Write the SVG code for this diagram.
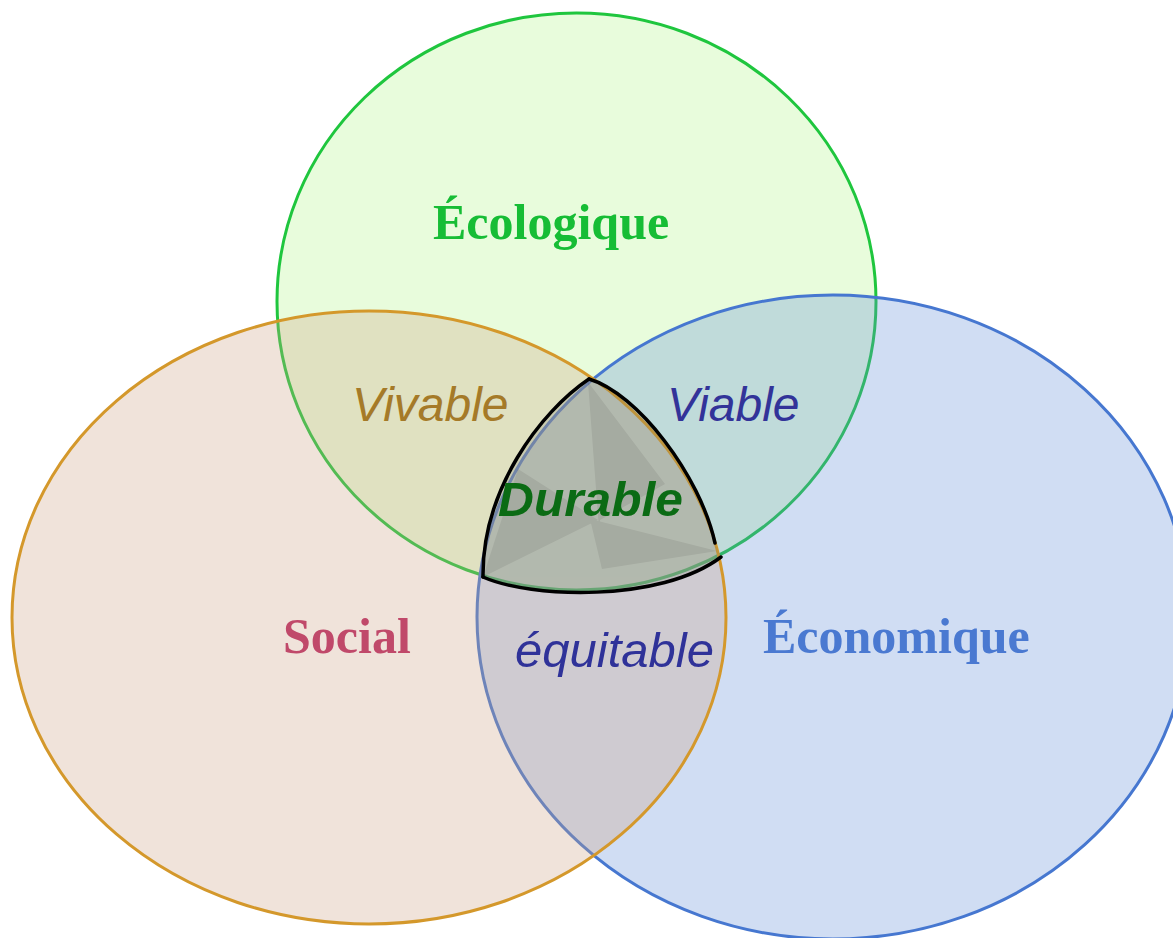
<svg xmlns="http://www.w3.org/2000/svg" width="1173" height="938" viewBox="0 0 1173 938">
  <style>
    .serif { font-family: "Liberation Serif", "Times New Roman", serif; font-weight: bold; font-size: 50px; }
    .ital { font-family: "Liberation Sans", Arial, sans-serif; font-style: italic; font-size: 48px; }
    .ring { stroke-width: 3; }
  </style>
  <defs>
    <clipPath id="durClip">
      <path d="M589,379 C540,412 482,490 483,577 C530,598 660,603 721,557 L715,543 C700,475 637,393 589,379 Z"/>
    </clipPath>
  </defs>

  <g id="ecologique">
    <ellipse class="ring" cx="576.5" cy="301.5" rx="299.5" ry="288.5" fill="#e8fcdc" stroke="#1fc63e"/>
  </g>
  <g id="economique">
    <ellipse class="ring" cx="833" cy="617" rx="356" ry="322" fill="rgb(98,142,215)" fill-opacity="0.3" stroke="#4677d0"/>
  </g>
  <g id="social">
    <ellipse class="ring" cx="369" cy="617.5" rx="357" ry="306.5" fill="rgb(205,162,132)" fill-opacity="0.3" stroke="#d4982b"/>
  </g>

  <g id="durable">
    <path d="M589,379 C540,412 482,490 483,577 C530,598 660,603 721,557 L715,543 C700,475 637,393 589,379 Z" fill="rgb(128,134,118)" fill-opacity="0.25"/>
    <g clip-path="url(#durClip)" opacity="0.075" fill="#000">
      <polygon points="588,382 665,484 600,520 602,569"/>
      <polygon points="590,519 717,551 602,569"/>
      <polygon points="518,469 598,520 483,577"/>
    </g>
    <g fill="none" stroke="#000" stroke-width="3.5" stroke-linecap="round">
      <path d="M589,379 C540,412 482,490 483,577"/>
      <path d="M483,577 C530,598 660,603 721,557"/>
      <path d="M589,379 C637,393 700,475 715,543"/>
    </g>
  </g>

  <g id="connectors"></g>

  <g id="labels">
    <text class="serif" x="433" y="239" fill="#16bd35">Écologique</text>
    <text class="serif" x="283" y="653" fill="#c0496a">Social</text>
    <text class="serif" x="763" y="653" fill="#4a79d1">Économique</text>
    <text class="ital" x="352" y="421" fill="#a57a28">Vivable</text>
    <text class="ital" x="667" y="421" fill="#323399">Viable</text>
    <text class="ital" x="515" y="667" fill="#2f3299" textLength="199" lengthAdjust="spacingAndGlyphs">équitable</text>
    <text class="ital" x="498" y="516" fill="#0b6b14" font-weight="bold" textLength="185" lengthAdjust="spacingAndGlyphs">Durable</text>
  </g>
</svg>
